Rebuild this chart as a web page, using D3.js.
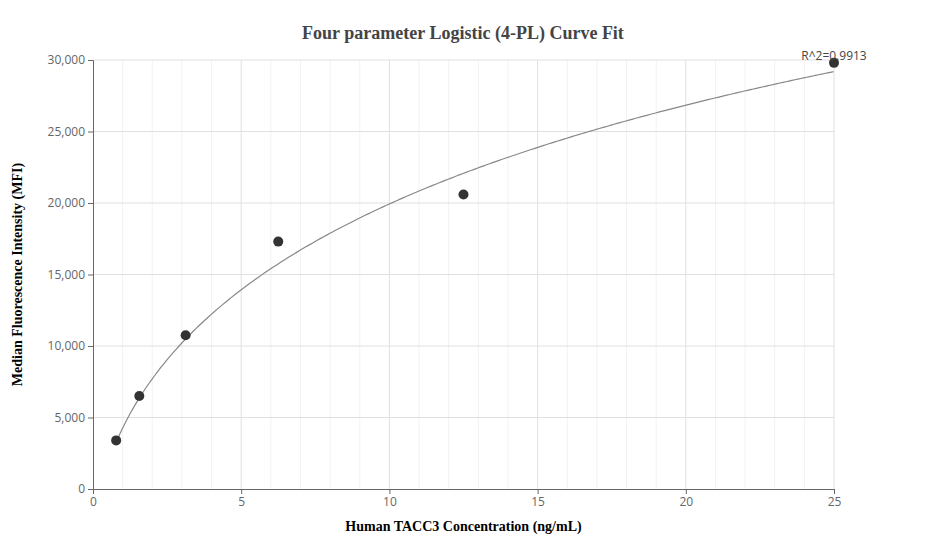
<!DOCTYPE html>
<html><head><meta charset="utf-8">
<script src="https://cdn.jsdelivr.net/npm/d3@7"></script>
<style>body{margin:0;background:#fff}</style></head>
<body><svg id="chart" width="927" height="560"></svg>
<script>
const concentrations = [0.78125, 1.5625, 3.125, 6.25, 12.5, 25];
const mfiValues = [3400, 6500, 10750, 17300, 20600, 29800];
const xTicks = [0, 5, 10, 15, 20, 25];
const yTicks = [0, 5000, 10000, 15000, 20000, 25000, 30000];
// 4-PL fit parameters
const fitA = -4000, fitB = 0.58, fitC = 35.7, fitD = 70000;
const rSquared = "R^2=0.9913";

const svg = d3.select("#chart");
const margin = {top: 60, right: 93, bottom: 71, left: 93};
const innerWidth = 927 - margin.left - margin.right;
const innerHeight = 560 - margin.top - margin.bottom;

const x = d3.scaleLinear().domain([0, 25]).range([0, innerWidth]);
const y = d3.scaleLinear().domain([0, 30000]).range([innerHeight, 0]);
const g = svg.append("g").attr("transform", `translate(${margin.left},${margin.top})`);

// minor vertical grid
g.selectAll(".minor").data(d3.range(1, 26).filter(v => v % 5 !== 0)).enter().append("line")
  .attr("x1", d => x(d)).attr("x2", d => x(d)).attr("y1", 0).attr("y2", innerHeight)
  .attr("stroke", "#f2f2f2");
g.selectAll(".vgrid").data(xTicks.slice(1)).enter().append("line")
  .attr("x1", d => x(d)).attr("x2", d => x(d)).attr("y1", 0).attr("y2", innerHeight)
  .attr("stroke", "#e0e0e0");
g.selectAll(".hgrid").data(yTicks.slice(1)).enter().append("line")
  .attr("x1", 0).attr("x2", innerWidth).attr("y1", d => y(d)).attr("y2", d => y(d))
  .attr("stroke", "#e0e0e0");

const xAxis = g.append("g").attr("transform", `translate(0,${innerHeight})`)
  .call(d3.axisBottom(x).tickValues(xTicks).tickSize(5).tickFormat(d3.format("d")));
const yAxis = g.append("g")
  .call(d3.axisLeft(y).tickValues(yTicks).tickSize(5).tickFormat(d3.format(",")));
[xAxis, yAxis].forEach(a => {
  a.selectAll("path,line").attr("stroke", "#666");
  a.selectAll("text").attr("fill", "#666").style("font-family", "Open Sans, sans-serif").style("font-size", "12px");
});

const fit = v => fitD + (fitA - fitD) / (1 + Math.pow(v / fitC, fitB));
const curveX = d3.range(0.78125, 25.0001, 0.1);
g.append("path").datum(curveX)
  .attr("d", d3.line().x(d => x(d)).y(d => y(fit(d))))
  .attr("fill", "none").attr("stroke", "#888").attr("stroke-width", 1.2);

g.selectAll(".pt").data(concentrations).enter().append("circle")
  .attr("cx", d => x(d)).attr("cy", (d, i) => y(mfiValues[i])).attr("r", 5)
  .attr("fill", "#333");

g.append("text").attr("x", x(25)).attr("y", y(29800) - 3).attr("text-anchor", "middle")
  .attr("fill", "#444").style("font-family", "Open Sans, sans-serif").style("font-size", "12px").text(rSquared);

svg.append("text").attr("x", 463).attr("y", 39).attr("text-anchor", "middle")
  .style("font-family", "Liberation Serif, serif").style("font-weight", "bold").style("font-size", "18px")
  .attr("fill", "#444").text("Four parameter Logistic (4-PL) Curve Fit");
svg.append("text").attr("x", margin.left + innerWidth / 2).attr("y", 531).attr("text-anchor", "middle")
  .style("font-family", "Liberation Serif, serif").style("font-weight", "bold").style("font-size", "14px")
  .text("Human TACC3 Concentration (ng/mL)");
svg.append("text").attr("transform", `translate(22,${margin.top + innerHeight / 2}) rotate(-90)`)
  .attr("text-anchor", "middle")
  .style("font-family", "Liberation Serif, serif").style("font-weight", "bold").style("font-size", "14px")
  .text("Median Fluorescence Intensity (MFI)");
</script></body></html>
